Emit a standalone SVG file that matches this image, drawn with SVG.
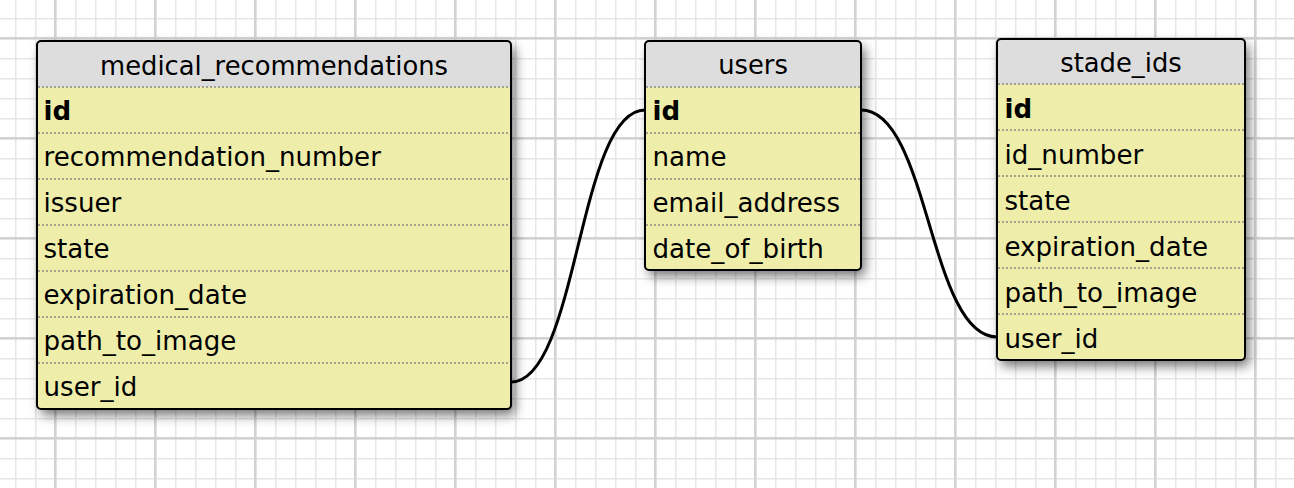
<svg xmlns="http://www.w3.org/2000/svg" width="1294" height="488" viewBox="0 0 1294 488">
  <style>
    .box { fill: none; stroke: #000; stroke-width: 2; }
    .bg { fill: #eeeeaa; }
    .hdr { fill: #dddddd; }
    .sep { stroke: #8a8a8a; stroke-width: 1.5; stroke-dasharray: 2 2; fill: none; }
    .title { font-family: "DejaVu Sans", Verdana, sans-serif; font-size: 25.8px; fill: #000; text-anchor: middle; }
    .field { font-family: "DejaVu Sans", Verdana, sans-serif; font-size: 26.1px; fill: #000; }
    .pk { font-weight: bold; }
    .conn { fill: none; stroke: #000; stroke-width: 3; }
  </style>
  <defs>
    <pattern id="minor" x="15" y="18" width="20" height="20" patternUnits="userSpaceOnUse">
      <rect x="0" y="0" width="1.5" height="20" fill="#e6e6e6"/>
      <rect x="0" y="0" width="20" height="1.5" fill="#e6e6e6"/>
    </pattern>
    <pattern id="major" x="54" y="37" width="100" height="100" patternUnits="userSpaceOnUse">
      <rect x="0" y="0" width="2.5" height="100" fill="#d2d2d2"/>
      <rect x="0" y="0" width="100" height="2.5" fill="#d2d2d2"/>
    </pattern>
    <filter id="shadow" x="-10%" y="-10%" width="130%" height="130%">
      <feDropShadow dx="4" dy="6" stdDeviation="6" flood-color="#000" flood-opacity="0.55"/>
    </filter>
  </defs>

  <rect width="1294" height="488" fill="#ffffff"/>
  <rect width="1294" height="488" fill="url(#minor)"/>
  <rect width="1294" height="488" fill="url(#major)"/>

  <g id="connectors">
    <path class="conn" d="M511,382 C578,382 578,110 645,110"/>
    <path class="conn" d="M861,110 C929,110 929,337 997,337"/>
  </g>

  <g id="medical_recommendations">
    <rect x="37" y="41" width="474" height="368" rx="4" class="bg" filter="url(#shadow)"/>
    <path d="M41,41 H507 A4,4 0 0 1 511,45 V87 H37 V45 A4,4 0 0 1 41,41 Z" class="hdr"/>
    <path class="sep" d="M38,87 H510 M38,133 H510 M38,179 H510 M38,225 H510 M38,271 H510 M38,317 H510 M38,363 H510"/>
    <rect x="37" y="41" width="474" height="368" rx="4" class="box"/>
    <text class="title" x="274" y="74.5">medical_recommendations</text>
    <text class="field pk" x="43.5" y="120">id</text>
    <text class="field" x="43.5" y="166">recommendation_number</text>
    <text class="field" x="43.5" y="212">issuer</text>
    <text class="field" x="43.5" y="258">state</text>
    <text class="field" x="43.5" y="304">expiration_date</text>
    <text class="field" x="43.5" y="350">path_to_image</text>
    <text class="field" x="43.5" y="396">user_id</text>
  </g>

  <g id="users">
    <rect x="645" y="41" width="216" height="229" rx="4" class="bg" filter="url(#shadow)"/>
    <path d="M649,41 H857 A4,4 0 0 1 861,45 V87 H645 V45 A4,4 0 0 1 649,41 Z" class="hdr"/>
    <path class="sep" d="M646,87 H860 M646,133 H860 M646,179 H860 M646,225 H860"/>
    <rect x="645" y="41" width="216" height="229" rx="4" class="box"/>
    <text class="title" x="753" y="74">users</text>
    <text class="field pk" x="652.5" y="120">id</text>
    <text class="field" x="652.5" y="166">name</text>
    <text class="field" x="652.5" y="212">email_address</text>
    <text class="field" x="652.5" y="258">date_of_birth</text>
  </g>

  <g id="stade_ids">
    <rect x="997" y="39" width="248" height="321" rx="4" class="bg" filter="url(#shadow)"/>
    <path d="M1001,39 H1241 A4,4 0 0 1 1245,43 V84 H997 V43 A4,4 0 0 1 1001,39 Z" class="hdr"/>
    <path class="sep" d="M998,84 H1244 M998,130 H1244 M998,176 H1244 M998,222 H1244 M998,268 H1244 M998,314 H1244"/>
    <rect x="997" y="39" width="248" height="321" rx="4" class="box"/>
    <text class="title" x="1121" y="72">stade_ids</text>
    <text class="field pk" x="1004.5" y="118">id</text>
    <text class="field" x="1004.5" y="164">id_number</text>
    <text class="field" x="1004.5" y="210">state</text>
    <text class="field" x="1004.5" y="256">expiration_date</text>
    <text class="field" x="1004.5" y="302">path_to_image</text>
    <text class="field" x="1004.5" y="348">user_id</text>
  </g>
</svg>
